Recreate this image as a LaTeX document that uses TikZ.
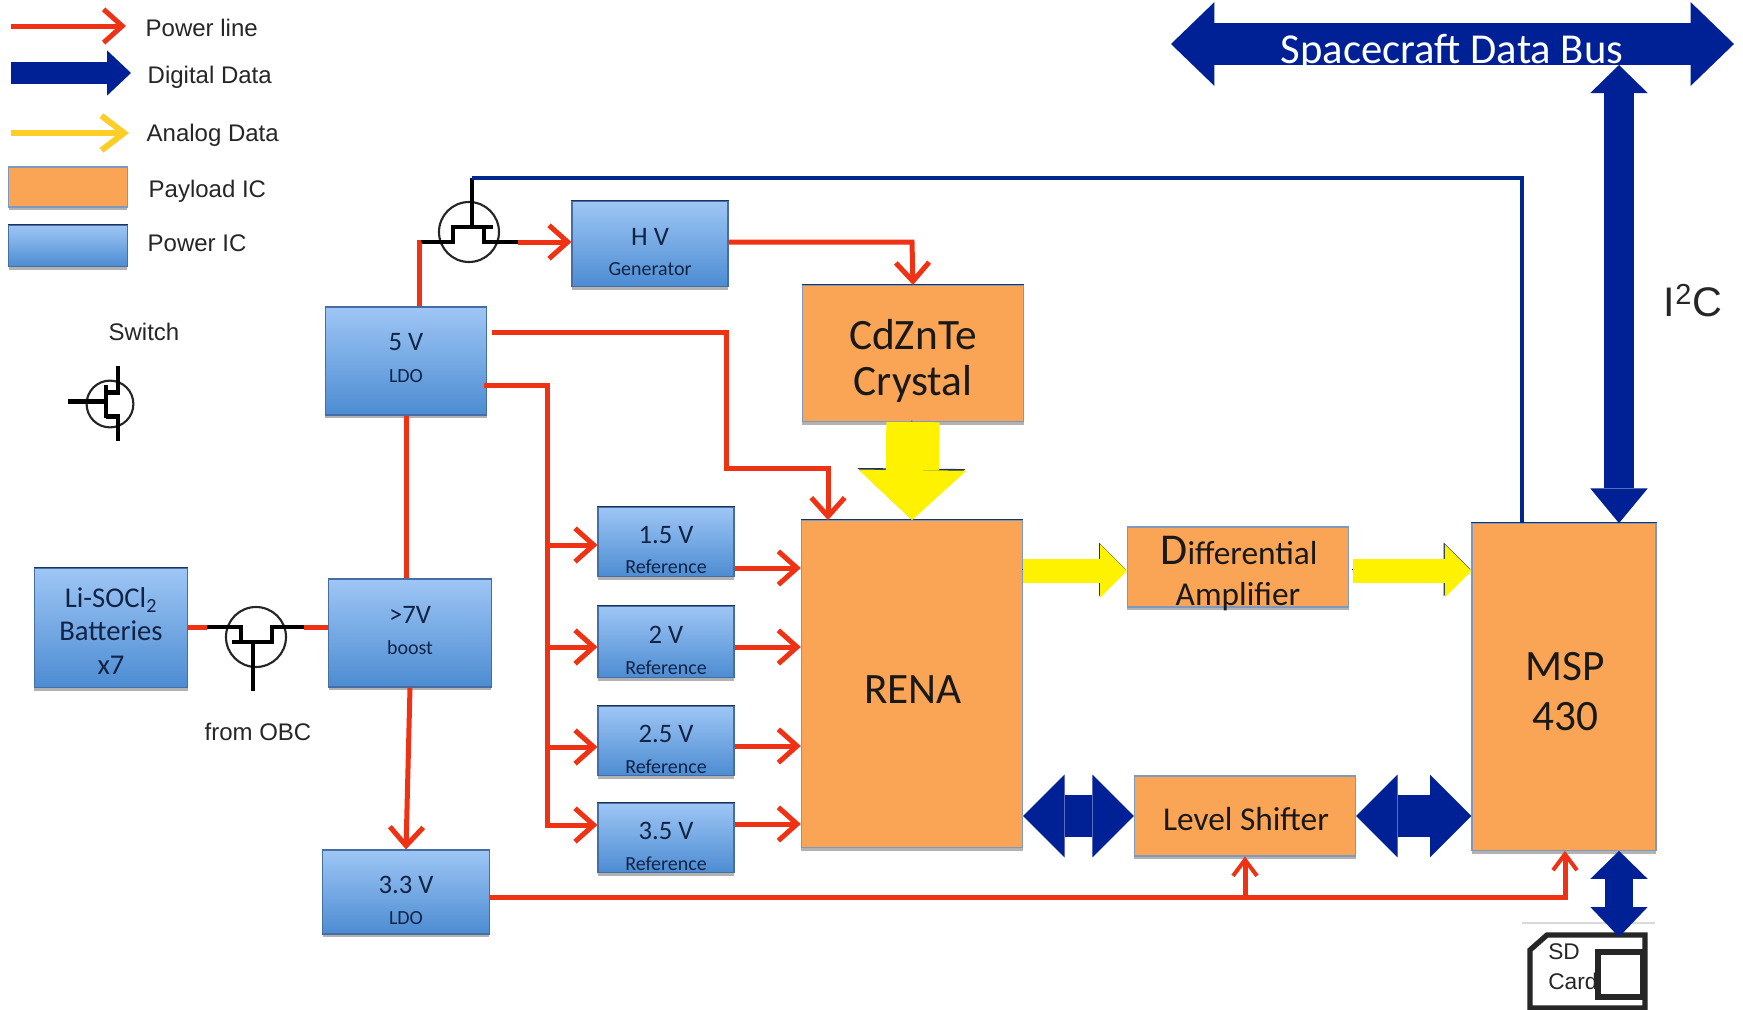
\documentclass[tikz,border=0pt]{standalone}
\usepackage{fontspec}
\setmainfont{Carlito}
\newfontfamily\legendfont{Liberation Sans}
\usetikzlibrary{arrows.meta,shadows}

\definecolor{redline}{RGB}{240,50,20}
\definecolor{busblue}{RGB}{0,32,150}
\definecolor{switchblue}{RGB}{0,40,140}
\definecolor{chiporange}{RGB}{250,165,85}
\definecolor{powertop}{RGB}{158,198,245}
\definecolor{powerbot}{RGB}{76,140,210}
\definecolor{edgeblue}{RGB}{70,110,165}
\definecolor{inknavy}{RGB}{18,36,70}
\definecolor{topnavy}{RGB}{30,50,90}
\definecolor{analoggold}{RGB}{255,205,40}

\tikzset{
  softshadow/.style={drop shadow={shadow xshift=0pt,shadow yshift=-2.5pt,opacity=.3,fill=black}},
  topedge/.style={append after command={\pgfextra{\draw [draw=topnavy,line width=1.1pt] (\tikzlastnode.north west) -- (\tikzlastnode.north east);}}},
  powerbox/.style={draw=edgeblue,line width=.8pt,top color=powertop,bottom color=powerbot,softshadow,topedge},
  payloadbox/.style={draw=edgeblue!70,line width=.8pt,fill=chiporange,softshadow,topedge},
  powerline/.style={draw=redline,line width=3.75pt},
  powerarrow/.style={powerline,-{Straight Barb[length=14pt,width=25pt,line width=3.75pt]}},
  poweruparrow/.style={powerline,-{Straight Barb[length=12pt,width=18pt,line width=3pt]}},
  yellowarrow/.style={color=yellow,preaction={draw=topnavy,transform canvas={xshift=-.8pt,yshift=1.2pt}}},
  busarrow/.style={color=busblue},
  biglabel/.style={font=\fontsize{32.5}{36}\selectfont,text=black!90},
  midlabel/.style={font=\fontsize{20}{24}\selectfont,text=inknavy},
  tinylabel/.style={font=\fontsize{15}{18}\selectfont,text=inknavy},
  legendlabel/.style={font=\legendfont\fontsize{18}{21}\selectfont,anchor=west,text=black!85},
  pics/fetswitch/.style={code={
    \draw [line width=1.6pt,black!85] (0,0) circle (30);
    \draw [line width=3.4pt,black] (3,54) -- (3,5);
    \draw [line width=3.4pt,black] (-18,5) -- (24,5);
    \draw [line width=3.4pt,black] (-16,5) -- (-16,-10) -- (-48,-10);
    \draw [line width=3.4pt,black] (15,5) -- (15,-10) -- (49,-10);
    \coordinate (-gate) at (3,54);
    \coordinate (-src) at (-48,-10);
    \coordinate (-drn) at (49,-10);
  }}
}

\begin{document}
\begin{tikzpicture}[x=0.75pt,y=0.75pt,yscale=-1,xscale=1]
\fill [white,use as bounding box] (0,0) rectangle (1743,1010);

%Shape: Legend swatches
\node [payloadbox,minimum width=89pt,minimum height=30pt,inner sep=0pt] (legorange) at (68,187) {};
\node [powerbox,minimum width=89pt,minimum height=31pt,inner sep=0pt] (legblue) at (68,246) {};

%Shape: Power ICs
\node [powerbox,minimum width=117pt,minimum height=64pt,inner sep=0pt] (hvgen) at (650,244) {};
\node [powerbox,minimum width=121pt,minimum height=81pt,inner sep=0pt] (ldofive) at (406,361) {};
\node [powerbox,minimum width=122pt,minimum height=81pt,inner sep=0pt] (boost) at (410,633) {};
\node [powerbox,minimum width=125pt,minimum height=63pt,inner sep=0pt] (ldothree) at (406,892) {};
\node [powerbox,minimum width=115pt,minimum height=89pt,inner sep=0pt] (batt) at (111,628) {};
\node [powerbox,minimum width=102pt,minimum height=52pt,inner sep=0pt] (refa) at (666,542) {};
\node [powerbox,minimum width=102pt,minimum height=53pt,inner sep=0pt] (refb) at (666,642) {};
\node [powerbox,minimum width=102pt,minimum height=52pt,inner sep=0pt] (refc) at (666,741) {};
\node [powerbox,minimum width=102pt,minimum height=52pt,inner sep=0pt] (refd) at (666,838) {};

%Shape: Payload ICs
\node [payloadbox,minimum width=166pt,minimum height=102pt,inner sep=0pt] (crystal) at (913,353.5) {};
\node [payloadbox,minimum width=166pt,minimum height=245pt,inner sep=0pt] (rena) at (912,684) {};
\node [payloadbox,minimum width=166pt,minimum height=60pt,inner sep=0pt] (diffamp) at (1238,567) {};
\node [payloadbox,minimum width=166pt,minimum height=60pt,inner sep=0pt] (shifter) at (1245,816) {};
\node [payloadbox,minimum width=138pt,minimum height=245pt,inner sep=0pt] (msp) at (1564,687) {};

%Shape: Switches
\pic (swhv) at (469,232) {fetswitch};
\pic (swbatt) [rotate=180] at (256,637) {fetswitch};
\pic (swleg) [rotate=90,scale=.78] at (110,404) {fetswitch};

% Free ends
\coordinate (legpowa) at (11,26);
\coordinate (legpowb) at (126,26);
\coordinate (legdiga) at (11,73);
\coordinate (legdigb) at (131,73);
\coordinate (leganaa) at (11,133);
\coordinate (leganab) at (129,133);
\coordinate (busl) at (1171,44);
\coordinate (busr) at (1734,44);
\coordinate (bustap) at (1619,65);
\coordinate (sdtop) at (1619,937);
\coordinate (lvjoin) at (1245,897);

%Power lines
\draw [powerline] (ldofive.north -| 419,0) -- (419,242) -- (swhv-src);
\draw [powerarrow] (swhv-drn) -- (hvgen.west |- swhv-drn);
\draw [powerarrow] (hvgen.east |- 0,242) -- (912,242) -- (crystal.north);
\draw [powerarrow] (492,332) -- (726,332) -- (726,468) -- (828,468) -- (rena.north -| 828,0);
\draw [powerarrow] (484,385) -- (547,385) -- (547,825) -- (refd.west |- 0,825);
\draw [powerarrow] (547,545) -- (refa.west |- 0,545);
\draw [powerarrow] (547,647) -- (refb.west |- 0,647);
\draw [powerarrow] (547,747) -- (refc.west |- 0,747);
\draw [powerarrow] (refa.east |- 0,568) -- (rena.west |- 0,568);
\draw [powerarrow] (refb.east |- 0,647) -- (rena.west |- 0,647);
\draw [powerarrow] (refc.east |- 0,746) -- (rena.west |- 0,746);
\draw [powerarrow] (refd.east |- 0,824) -- (rena.west |- 0,824);
\draw [powerline] (ldofive.south) -- (ldofive.south |- boost.north);
\draw [powerarrow] (boost.south) -- (ldothree.north);
\draw [powerline] (batt.east |- swbatt-drn) -- (swbatt-drn);
\draw [powerline] (swbatt-src) -- (boost.west |- swbatt-src);
\draw [poweruparrow] (ldothree.east |- 0,897) -- (1565,897) -- (msp.south -| 1565,0);
\draw [poweruparrow] (lvjoin) -- (shifter.south);

%Switch gate line
\draw [draw=switchblue,line width=3pt] (swhv-gate) -- (swhv-gate -| 1522,0) -- (msp.north -| 1522,0);

%Analog data
\draw [yellowarrow,line width=40pt,-{Triangle[length=37.5pt,width=81pt,line width=0pt]}] (crystal.south) -- (rena.north);
\draw [yellowarrow,line width=18.7pt,-{Triangle[length=20pt,width=40pt,line width=0pt]}] (rena.east |- 0,571) -- (diffamp.west |- 0,571);
\draw [yellowarrow,line width=18.7pt,-{Triangle[length=20pt,width=40pt,line width=0pt]}] (1353,571) -- (msp.west |- 0,571);

%Shape: SD card
\draw [draw=black!85,fill=white,line width=4pt] (1530,1008) -- (1530,950) -- (1547,935) -- (1645,935) -- (1645,1008) -- cycle;
\draw [draw=black!15,line width=.8pt] (1522,923) -- (1655,923);
\node [font=\legendfont\fontsize{17}{20}\selectfont,text=black!85,anchor=west,inner sep=0pt] (sdlabela) at (1548,952) {SD};
\node [font=\legendfont\fontsize{17}{20}\selectfont,text=black!85,anchor=west,inner sep=0pt] (sdlabelb) at (1548,981) {Card};
\draw [draw=black!85,fill=white,line width=4pt] (1598,952) rectangle (1643,997);

%Digital data
\draw [busarrow,line width=31.5pt,{Triangle[length=32.6pt,width=63pt,line width=0pt]}-{Triangle[length=32.6pt,width=63pt,line width=0pt]}] (busl) -- (busr);
\draw [busarrow,line width=22.5pt,{Triangle[length=21pt,width=43pt,line width=0pt]}-{Triangle[length=26pt,width=43pt,line width=0pt]}] (bustap) -- (msp.north -| bustap);
\draw [busarrow,line width=32pt,{Triangle[length=31pt,width=62pt,line width=0pt]}-{Triangle[length=31pt,width=62pt,line width=0pt]}] (rena.east |- shifter) -- (shifter.west);
\draw [busarrow,line width=32pt,{Triangle[length=31pt,width=62pt,line width=0pt]}-{Triangle[length=31pt,width=62pt,line width=0pt]}] (shifter.east) -- (msp.west |- shifter);
\draw [busarrow,line width=21pt,{Triangle[length=21pt,width=43pt,line width=0pt]}-{Triangle[length=22.5pt,width=43pt,line width=0pt]}] (msp.south -| sdtop) -- (sdtop);

%Legend arrows
\draw [powerarrow] (legpowa) -- (legpowb);
\draw [busarrow,line width=17pt,-{Triangle[length=18pt,width=34pt,line width=0pt]}] (legdiga) -- (legdigb);
\draw [draw=analoggold,line width=4.5pt,-{Straight Barb[length=17pt,width=26pt,line width=4.5pt]}] (leganaa) -- (leganab);

% Text Node
\node [font=\fontsize{32}{36}\selectfont,text=white,anchor=base] (buslabel) at (1452,63) {Spacecraft Data Bus};
% Text Node
\node [font=\legendfont\fontsize{31}{36}\selectfont,text=black!85] (i2clabel) at (1693,301) {I\textsuperscript{2}C};
% Text Node
\node [legendlabel] (legtxta) at (141,28) {Power line};
\node [legendlabel] (legtxtb) at (143,77) {Digital Data};
\node [legendlabel] (legtxtc) at (142,135) {Analog Data};
\node [legendlabel] (legtxtd) at (144,191) {Payload IC};
\node [legendlabel] (legtxte) at (143,243) {Power IC};
\node [legendlabel,anchor=center] (legtxtf) at (144,332) {Switch};
\node [legendlabel,anchor=center] (legtxtg) at (258,732) {from OBC};
% Text Node
\node [midlabel] (hvtxta) at (650,237) {H V};
\node [tinylabel] (hvtxtb) at (650,269) {Generator};
\node [midlabel] (fivetxta) at (406,342) {5 V};
\node [tinylabel] (fivetxtb) at (406,376) {LDO};
\node [midlabel] (boosttxta) at (410,615) {>7V};
\node [tinylabel] (boosttxtb) at (410,648) {boost};
\node [midlabel] (threetxta) at (406,885) {3.3 V};
\node [tinylabel] (threetxtb) at (406,918) {LDO};
\node [midlabel,font=\fontsize{21.5}{24}\selectfont] (batttxta) at (111,600) {Li-SOCl\textsubscript{2}};
\node [midlabel,font=\fontsize{21.5}{24}\selectfont] (batttxtb) at (111,631) {Batteries};
\node [midlabel,font=\fontsize{21.5}{24}\selectfont] (batttxtc) at (111,665) {x7};
% Text Node
\node [midlabel] (refatxta) at (666,535) {1.5 V};
\node [tinylabel] (refatxtb) at (666,567) {Reference};
\node [midlabel] (refbtxta) at (666,635) {2 V};
\node [tinylabel] (refbtxtb) at (666,668) {Reference};
\node [midlabel] (refctxta) at (666,734) {2.5 V};
\node [tinylabel] (refctxtb) at (666,767) {Reference};
\node [midlabel] (refdtxta) at (666,831) {3.5 V};
\node [tinylabel] (refdtxtb) at (666,864) {Reference};
% Text Node
\node [biglabel] (crystxta) at (913,335) {CdZnTe};
\node [biglabel] (crystxtb) at (913,384) {Crystal};
\node [biglabel] (renatxt) at (913,690) {RENA};
\node [biglabel] (msptxta) at (1565,667) {MSP};
\node [biglabel] (msptxtb) at (1565,717) {430};
\node [biglabel,font=\fontsize{25}{28}\selectfont,anchor=base] (difftxta) at (1239,564) {{\fontsize{33}{36}\selectfont D}ifferential};
\node [biglabel,font=\fontsize{25}{28}\selectfont,anchor=base] (difftxtb) at (1238,605) {Amplifier};
\node [biglabel,font=\fontsize{25}{28}\selectfont] (shifttxt) at (1246,819) {Level Shifter};

\end{tikzpicture}
\end{document}
